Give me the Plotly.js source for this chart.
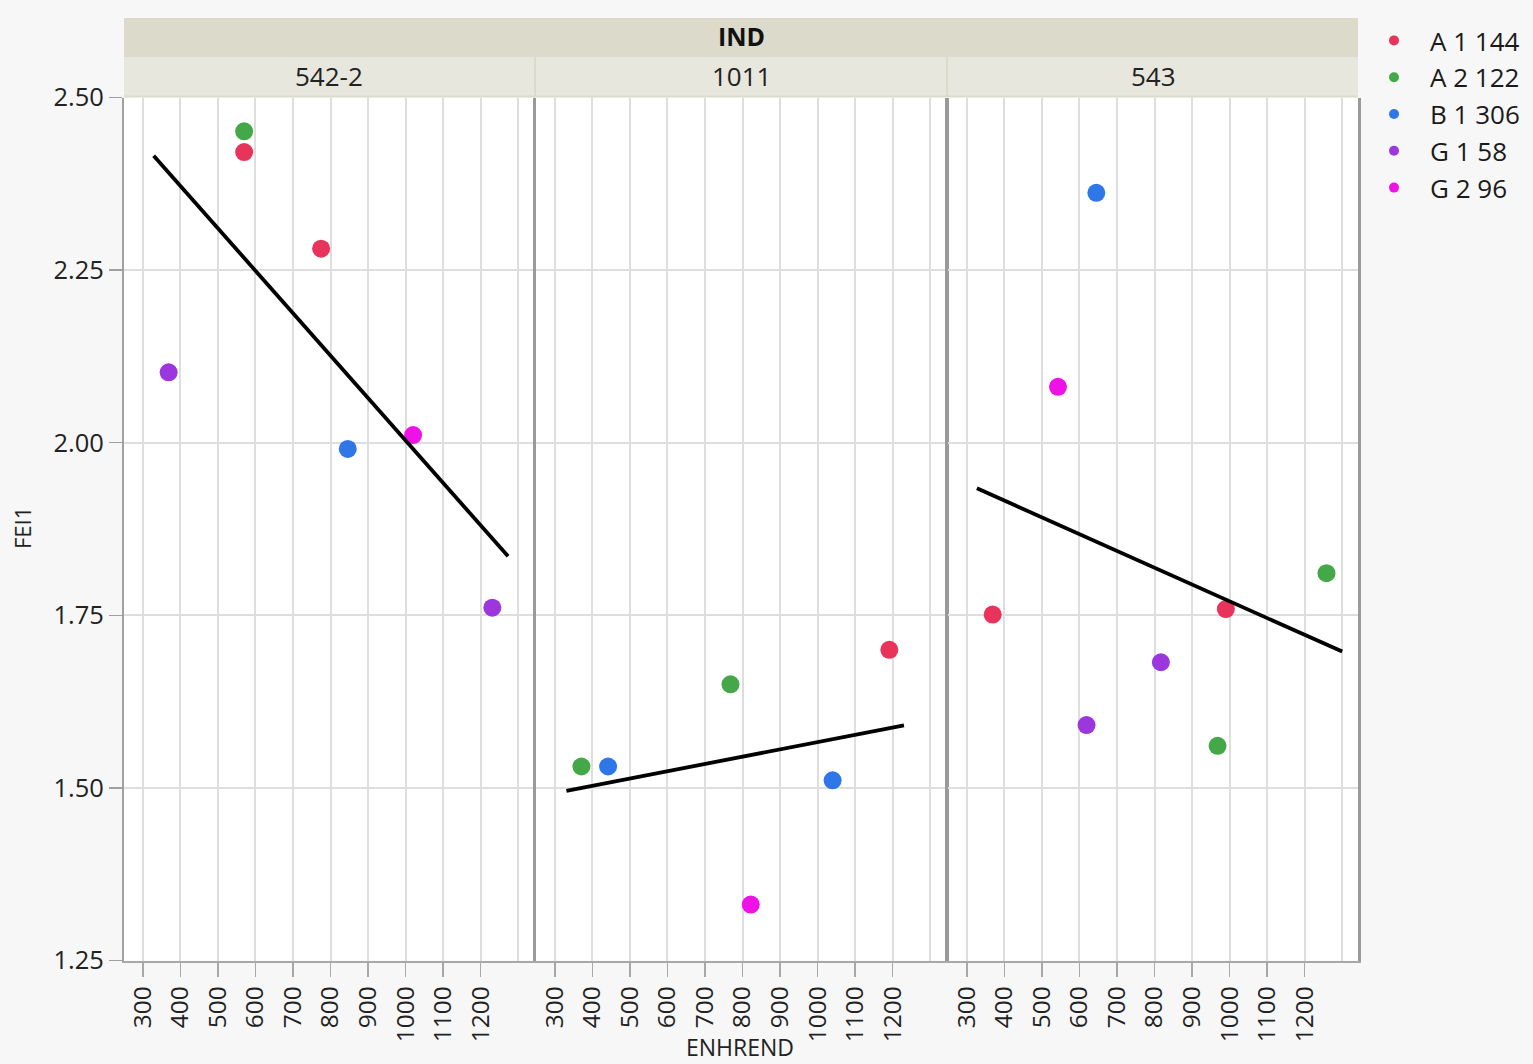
<!DOCTYPE html>
<html>
<head>
<meta charset="utf-8">
<script src="https://cdn.plot.ly/plotly-3.0.1.min.js"></script>
<style>html,body{margin:0;padding:0;background:#f7f7f7;}#chart{width:1533px;height:1064px;}</style>
</head>
<body>
<div id="chart"></div>
<script>
// ---------- data ----------
const groupTitle = 'IND';
const panels = ['542-2', '1011', '543'];
const groups = ['A 1 144', 'A 2 122', 'B 1 306', 'G 1 58', 'G 2 96'];
const xTicks = [300, 400, 500, 600, 700, 800, 900, 1000, 1100, 1200];
const yTicks = [1.25, 1.50, 1.75, 2.00, 2.25, 2.50];

// one entry per observation
const pointPanel = ['542-2','542-2','542-2','542-2','542-2','542-2','542-2',
                    '1011','1011','1011','1011','1011','1011',
                    '543','543','543','543','543','543','543','543'];
const pointGroup = ['A 1 144','A 1 144','A 2 122','B 1 306','G 1 58','G 1 58','G 2 96',
                    'A 1 144','A 2 122','A 2 122','B 1 306','B 1 306','G 2 96',
                    'A 1 144','A 1 144','A 2 122','A 2 122','B 1 306','G 1 58','G 1 58','G 2 96'];
const enhrend    = [570, 775, 570, 846, 369, 1231, 1020,
                    1191, 371, 768, 442, 1040, 822,
                    369, 990, 1258, 968, 645, 817, 619, 543];
const fei1       = [2.421, 2.281, 2.451, 1.991, 2.102, 1.761, 2.011,
                    1.700, 1.531, 1.650, 1.531, 1.511, 1.331,
                    1.751, 1.759, 1.811, 1.561, 2.362, 1.682, 1.591, 2.081];

// extent of the fitted line in each panel
const fitStart = [329, 331, 327];
const fitEnd   = [1273, 1230, 1300];

// ---------- styles ----------
const groupColors = ['#e8335a', '#45a848', '#2f77e8', '#9b37dc', '#ee12e6'];
const FONT = '"Open Sans", "Noto Sans", sans-serif';
const W = 1533, H = 1064;
const panelPx = [[124, 534], [536, 946], [948, 1358]];
const plotTop = 97.5, plotBottom = 960.5;

function linfit(xs, ys) {
  const n = xs.length;
  const mx = xs.reduce((a, b) => a + b, 0) / n;
  const my = ys.reduce((a, b) => a + b, 0) / n;
  let sxy = 0, sxx = 0;
  for (let i = 0; i < n; i++) { sxy += (xs[i] - mx) * (ys[i] - my); sxx += (xs[i] - mx) ** 2; }
  const b = sxy / sxx;
  return { a: my - b * mx, b: b };
}

const traces = [];
panels.forEach((p, pi) => {
  const xa = 'x' + (pi ? pi + 1 : '');
  const ya = 'y' + (pi ? pi + 1 : '');
  groups.forEach((g, gi) => {
    const xs = [], ys = [];
    for (let i = 0; i < enhrend.length; i++) {
      if (pointPanel[i] === p && pointGroup[i] === g) { xs.push(enhrend[i]); ys.push(fei1[i]); }
    }
    if (xs.length) {
      traces.push({
        type: 'scatter', mode: 'markers', x: xs, y: ys, xaxis: xa, yaxis: ya,
        name: g, legendgroup: g, showlegend: false,
        marker: { color: groupColors[gi], size: 18, line: { width: 0 } },
        hoverinfo: 'skip'
      });
    }
  });
  // fitted regression line
  const px = [], py = [];
  for (let i = 0; i < enhrend.length; i++) if (pointPanel[i] === p) { px.push(enhrend[i]); py.push(fei1[i]); }
  const f = linfit(px, py);
  const lx = [fitStart[pi], fitEnd[pi]];
  traces.push({
    type: 'scatter', mode: 'lines', x: lx, y: lx.map(v => f.a + f.b * v),
    xaxis: xa, yaxis: ya, showlegend: false, hoverinfo: 'skip',
    line: { color: '#000000', width: 3.8 }
  });
});
// legend entries
groups.forEach((g, gi) => {
  traces.push({
    type: 'scatter', mode: 'markers', x: [null], y: [null], xaxis: 'x', yaxis: 'y',
    name: g, legendgroup: g, showlegend: true,
    marker: { color: groupColors[gi], size: 10 }
  });
});

const layout = {
  width: W, height: H,
  margin: { l: 0, r: 0, t: 0, b: 0, pad: 0 },
  paper_bgcolor: '#f7f7f7',
  plot_bgcolor: '#ffffff',
  font: { family: FONT, size: 24, color: '#222222' },
  showlegend: true,
  legend: {
    x: 1358 / W, y: 1 - 17 / H, xanchor: 'left', yanchor: 'top',
    bgcolor: 'rgba(0,0,0,0)', borderwidth: 0,
    itemwidth: 62, tracegroupgap: 0,
    font: { family: FONT, size: 26, color: '#1a1a1a' }
  },
  shapes: [],
  annotations: []
};

const yDomain = [1 - plotBottom / H, 1 - plotTop / H];
panels.forEach((p, pi) => {
  const sfx = pi ? pi + 1 : '';
  const dom = [panelPx[pi][0] / W, panelPx[pi][1] / W];
  layout['xaxis' + sfx] = {
    domain: dom, anchor: 'y' + sfx, range: [250, 1342], automargin: false,
    tickmode: 'array', tickvals: xTicks, ticktext: xTicks.map(String), tickangle: -90,
    ticks: 'outside', ticklen: 14, tickwidth: 1.5, tickcolor: '#a8a8a8',
    tickfont: { family: FONT, size: 24.5, color: '#222222' },
    showgrid: true, gridcolor: '#dedede', gridwidth: 2,
    minor: { dtick: 100, tick0: 300, showgrid: true, gridcolor: '#dedede', gridwidth: 2, ticks: '' },
    showline: true, linecolor: '#a8a8a8', linewidth: 2,
    zeroline: false, fixedrange: true
  };
  layout['yaxis' + sfx] = {
    domain: yDomain, anchor: 'x' + sfx, range: [1.25, 2.5], automargin: false,
    tickmode: 'array', tickvals: yTicks, tickformat: '.2f',
    showticklabels: pi === 0, ticks: pi === 0 ? 'outside' : '',
    ticklen: 13, tickwidth: 1.5, tickcolor: '#a0a0a0',
    tickfont: { family: FONT, size: 25.5, color: '#222222' },
    showgrid: true, gridcolor: '#dedede', gridwidth: 2,
    showline: true, mirror: true, linecolor: pi === 0 ? '#a0a0a0' : '#9a9a9a', linewidth: pi === 0 ? 2 : 3,
    zeroline: false, fixedrange: true
  };
  if (pi) layout['yaxis' + sfx].matches = 'y';
  // panel header band
  layout.shapes.push({
    type: 'rect', xref: 'x' + sfx + ' domain', yref: 'paper',
    x0: 0, x1: 1, y0: 1 - 95.5 / H, y1: 1 - 57 / H,
    fillcolor: '#e8e7de', line: { width: 0 }, layer: 'above'
  });
  layout.annotations.push({
    text: p, xref: 'x' + sfx + ' domain', yref: 'paper', x: 0.5, y: 1 - 76 / H,
    xanchor: 'center', yanchor: 'middle', showarrow: false,
    font: { family: FONT, size: 26, color: '#222222' }
  });
});
// outer group band
layout.shapes.unshift({
  type: 'rect', xref: 'paper', yref: 'paper',
  x0: panelPx[0][0] / W, x1: panelPx[2][1] / W, y0: 1 - 97.5 / H, y1: 1 - 18 / H,
  fillcolor: '#dcdacb', line: { width: 0 }, layer: 'above'
});
layout.annotations.push({
  text: '<b>' + groupTitle + '</b>', xref: 'paper', yref: 'paper',
  x: (panelPx[0][0] + panelPx[2][1]) / 2 / W, y: 1 - 36 / H,
  xanchor: 'center', yanchor: 'middle', showarrow: false,
  font: { family: FONT, size: 25, color: '#111111' }
});
layout.annotations.push({
  text: 'ENHREND', xref: 'paper', yref: 'paper',
  x: 740 / W, y: 1 - 1047 / H, xanchor: 'center', yanchor: 'middle', showarrow: false,
  font: { family: FONT, size: 23, color: '#222222' }
});
layout.annotations.push({
  text: 'FEI1', xref: 'paper', yref: 'paper', textangle: -90,
  x: 22 / W, y: 1 - 528 / H, xanchor: 'center', yanchor: 'middle', showarrow: false,
  font: { family: FONT, size: 22, color: '#222222' }
});

Plotly.newPlot('chart', traces, layout, { displayModeBar: false, staticPlot: true });
</script>
</body>
</html>
